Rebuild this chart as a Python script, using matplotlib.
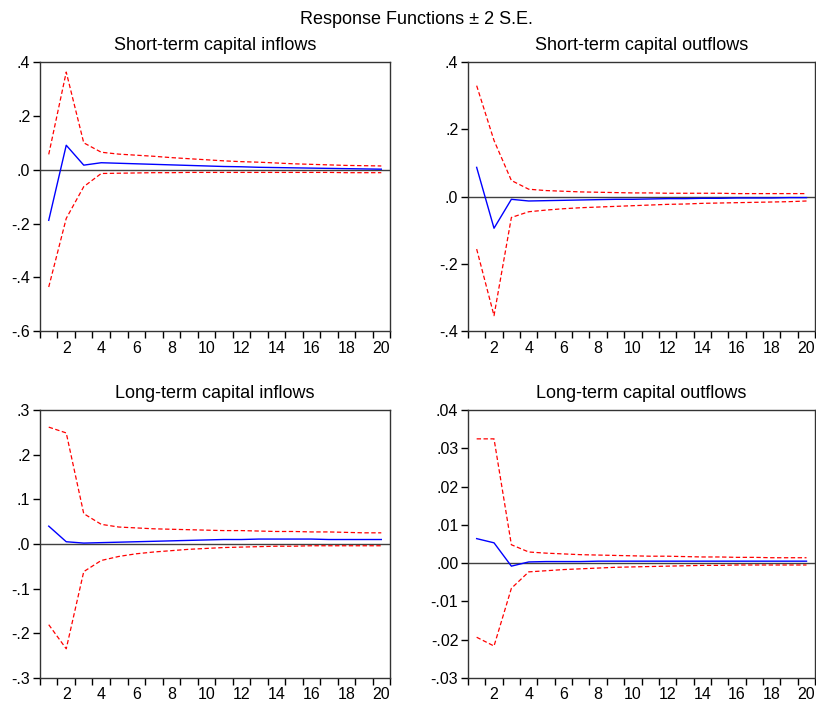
"""
Impulse response functions (± 2 S.E.) in a 2x2 grid, EViews style
"""
import matplotlib
matplotlib.use('Agg')
import matplotlib.pyplot as plt
from matplotlib.ticker import FixedLocator, FuncFormatter

plt.rcParams['font.family'] = ['Liberation Sans', 'DejaVu Sans']

periods = list(range(1, 21))

# Short-term capital inflows
st_in_resp = [-0.188, 0.091, 0.017, 0.026, 0.024, 0.022, 0.020, 0.018, 0.016, 0.014,
              0.012, 0.011, 0.009, 0.008, 0.007, 0.006, 0.005, 0.004, 0.003, 0.002]
st_in_up = [0.057, 0.363, 0.100, 0.065, 0.058, 0.054, 0.050, 0.045, 0.041, 0.037,
            0.033, 0.030, 0.028, 0.025, 0.022, 0.020, 0.018, 0.016, 0.015, 0.014]
st_in_lo = [-0.436, -0.181, -0.063, -0.014, -0.013, -0.012, -0.011, -0.011, -0.010, -0.010,
            -0.010, -0.010, -0.010, -0.010, -0.010, -0.010, -0.010, -0.011, -0.011, -0.011]

# Short-term capital outflows
st_out_resp = [0.087, -0.094, -0.008, -0.013, -0.012, -0.011, -0.010, -0.009, -0.008, -0.008,
               -0.007, -0.006, -0.006, -0.005, -0.005, -0.004, -0.004, -0.004, -0.003, -0.003]
st_out_up = [0.330, 0.167, 0.048, 0.022, 0.018, 0.016, 0.014, 0.013, 0.012, 0.011,
             0.011, 0.010, 0.010, 0.010, 0.010, 0.009, 0.009, 0.009, 0.009, 0.009]
st_out_lo = [-0.156, -0.354, -0.062, -0.045, -0.040, -0.036, -0.033, -0.031, -0.029, -0.027,
             -0.025, -0.023, -0.022, -0.020, -0.019, -0.018, -0.017, -0.016, -0.015, -0.013]

# Long-term capital inflows
lt_in_resp = [0.040, 0.005, 0.002, 0.003, 0.004, 0.005, 0.006, 0.007, 0.008, 0.009,
              0.010, 0.010, 0.011, 0.011, 0.011, 0.011, 0.010, 0.010, 0.010, 0.010]
lt_in_up = [0.262, 0.249, 0.068, 0.044, 0.038, 0.036, 0.034, 0.033, 0.032, 0.031,
            0.030, 0.030, 0.029, 0.028, 0.028, 0.027, 0.027, 0.026, 0.025, 0.025]
lt_in_lo = [-0.181, -0.235, -0.062, -0.037, -0.028, -0.022, -0.018, -0.015, -0.012, -0.010,
            -0.008, -0.007, -0.006, -0.005, -0.005, -0.004, -0.004, -0.004, -0.004, -0.004]

# Long-term capital outflows
lt_out_resp = [0.0064, 0.0053, -0.0008, 0.0003, 0.0004, 0.0004, 0.0004, 0.0005, 0.0005, 0.0005,
               0.0005, 0.0005, 0.0005, 0.0005, 0.0005, 0.0005, 0.0005, 0.0005, 0.0005, 0.0005]
lt_out_up = [0.0325, 0.0325, 0.0048, 0.0029, 0.0026, 0.0024, 0.0022, 0.0021, 0.0020, 0.0019,
             0.0018, 0.0018, 0.0017, 0.0016, 0.0016, 0.0015, 0.0015, 0.0014, 0.0014, 0.0014]
lt_out_lo = [-0.0194, -0.0217, -0.0066, -0.0023, -0.0020, -0.0017, -0.0015, -0.0013, -0.0011, -0.0010,
             -0.0009, -0.0008, -0.0007, -0.0006, -0.0006, -0.0005, -0.0005, -0.0005, -0.0005, -0.0005]

titles = ['Short-term capital inflows', 'Short-term capital outflows',
          'Long-term capital inflows', 'Long-term capital outflows']
y_ticks = [[-0.6, -0.4, -0.2, 0.0, 0.2, 0.4],
           [-0.4, -0.2, 0.0, 0.2, 0.4],
           [-0.3, -0.2, -0.1, 0.0, 0.1, 0.2, 0.3],
           [-0.03, -0.02, -0.01, 0.0, 0.01, 0.02, 0.03, 0.04]]
y_decimals = [1, 1, 1, 2]
series = [(st_in_resp, st_in_up, st_in_lo),
          (st_out_resp, st_out_up, st_out_lo),
          (lt_in_resp, lt_in_up, lt_in_lo),
          (lt_out_resp, lt_out_up, lt_out_lo)]

# axes rectangles (figure fraction)
rects = [[0.049, 0.531, 0.429, 0.381],
         [0.5735, 0.531, 0.4255, 0.381],
         [0.049, 0.040, 0.429, 0.379],
         [0.5735, 0.040, 0.4255, 0.379]]


def eviews_fmt(nd):
    def f(v, pos):
        s = f'{v:.{nd}f}'
        return s.replace('0.', '.', 1)
    return FuncFormatter(f)


fig = plt.figure(figsize=(8.16, 7.06), dpi=100)
fig.text(0.51, 0.973, 'Response Functions ± 2 S.E.', ha='center', va='center', fontsize=13)

for i in range(4):
    ax = fig.add_axes(rects[i])
    resp, up, lo = series[i]
    ax.axhline(0, color='#404040', linewidth=1.0, zorder=1)
    ax.plot(periods, up, color='red', linestyle=(0, (3.5, 2)), linewidth=0.9, zorder=2)
    ax.plot(periods, lo, color='red', linestyle=(0, (3.5, 2)), linewidth=0.9, zorder=2)
    ax.plot(periods, resp, color='blue', linewidth=1.0, zorder=3)

    yt = y_ticks[i]
    ax.set_ylim(yt[0], yt[-1])
    ax.set_xlim(0.5, 20.5)
    ax.yaxis.set_major_locator(FixedLocator(yt))
    ax.yaxis.set_major_formatter(eviews_fmt(y_decimals[i]))

    # ticks on period boundaries, labels on even periods
    ax.xaxis.set_major_locator(FixedLocator([k + 0.5 for k in range(0, 21)]))
    ax.xaxis.set_major_formatter(FuncFormatter(lambda v, p: ''))
    ax.xaxis.set_minor_locator(FixedLocator(list(range(2, 21, 2))))
    ax.xaxis.set_minor_formatter(FuncFormatter(lambda v, p: f'{int(round(v))}'))
    ax.tick_params(axis='x', which='major', direction='out', length=5, width=1)
    ax.tick_params(axis='x', which='minor', length=0, labelsize=11.5, pad=7)
    ax.tick_params(axis='y', direction='out', length=5, width=1, labelsize=11.5, pad=2)

    for sp in ax.spines.values():
        sp.set_linewidth(1.0)
        sp.set_color('#333333')
    ax.set_title(titles[i], fontsize=13, pad=8.5)

fig.savefig('out.png', dpi=100)
plt.close()
